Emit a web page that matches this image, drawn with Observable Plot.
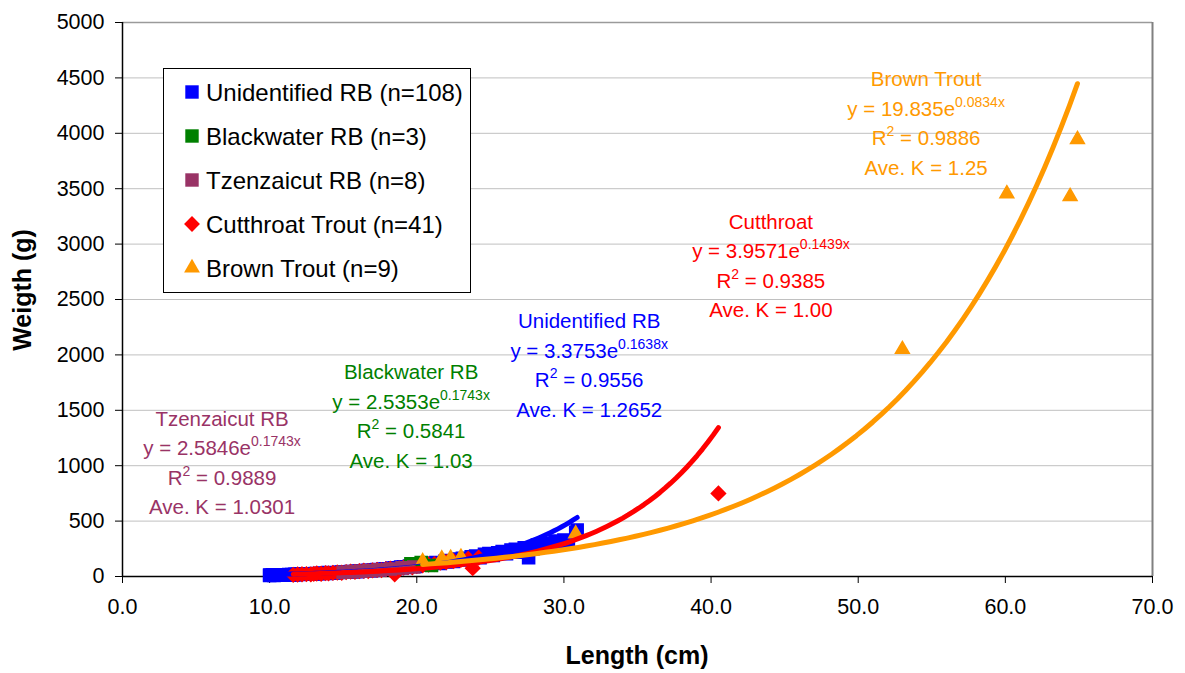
<!DOCTYPE html>
<html><head><meta charset="utf-8">
<script src="https://cdn.jsdelivr.net/npm/d3@7"></script>
<script src="https://cdn.jsdelivr.net/npm/@observablehq/plot@0.6"></script>
<style>body{margin:0;background:#fff;}</style>
</head><body><div id="chart"></div>
<script>
// ---- tick labels ----
const xTicks = [0, 10, 20, 30, 40, 50, 60, 70];
const yTicks = [0, 500, 1000, 1500, 2000, 2500, 3000, 3500, 4000, 4500, 5000];

// ---- series ----
const seriesNames = ["Unidentified RB", "Blackwater RB", "Tzenzaicut RB", "Cutthroat Trout", "Brown Trout"];
const legendLabels = ["Unidentified RB (n=108)", "Blackwater RB (n=3)", "Tzenzaicut RB (n=8)", "Cutthroat Trout (n=41)", "Brown Trout (n=9)"];
const seriesColors = ["#0000FF", "#008000", "#993366", "#FF0000", "#FF9900"];
const seriesSymbols = ["square", "square", "square", "diamond2", "triangle2"];
const drawOrder = [0, 3, 1, 2, 4];

const unidLen = [10.0,10.0,10.1,10.2,10.3,10.4,10.5,10.5,10.6,10.7,10.8,10.9,11.0,11.0,11.1,11.2,11.3,11.4,11.5,11.6,11.7,11.8,11.9,12.0,12.1,12.3,12.5,12.7,12.9,13.1,13.3,13.5,13.7,13.9,14.1,14.3,14.5,14.7,14.9,15.1,15.3,15.5,15.7,15.9,16.1,16.3,16.5,16.7,16.9,17.1,17.3,17.5,17.7,17.9,18.1,18.3,18.5,18.7,18.9,19.1,19.3,19.5,19.7,19.9,20.1,20.4,20.7,21.0,21.3,21.6,21.9,22.2,22.5,22.8,23.1,23.4,23.7,24.0,24.3,24.6,24.9,25.2,25.5,25.8,26.1,26.4,26.7,27.0,27.3,27.6,27.9,28.2,28.5,28.8,29.1,29.4,29.7,30.0,30.3,30.8,30.9,12.2,13.0,14.0,16.0,17.0,19.0,22.0];
const unidWt = [9,13,11,15,10,12,14,11,16,12,14,13,15,12,16,14,17,15,18,16,19,17,20,18,21,20,23,22,25,26,24,29,30,28,33,34,32,37,40,38,43,45,42,48,50,47,54,56,52,60,63,58,68,70,66,76,78,72,85,88,82,95,98,90,105,110,102,120,126,118,138,145,136,158,165,150,178,185,170,200,208,190,215,225,205,240,245,220,260,170,250,285,265,300,280,320,300,330,310,400,420,24,22,36,44,55,80,130];

const blackLen = [19.6, 20.3, 21.0];
const blackWt = [115, 125, 100];

const tzenLen = [15.0, 15.6, 16.2, 16.8, 17.5, 18.2, 19.0, 19.8];
const tzenWt = [38, 44, 48, 55, 60, 68, 78, 86];

const cutLen = [11.6,11.9,12.2,12.5,12.8,13.0,13.2,13.5,13.8,14.0,14.3,14.6,14.9,15.2,15.5,15.8,16.1,16.4,16.7,17.0,17.3,17.6,17.9,18.2,18.5,18.8,19.1,19.4,19.7,20.0,20.4,20.8,21.2,21.6,22.0,22.5,23.0,23.5,23.8,24.2,40.5];
const cutWt = [15,18,20,22,19,24,27,25,30,28,33,36,34,40,44,41,48,52,49,56,60,58,66,70,20,74,80,85,82,95,100,108,112,125,130,140,150,160,75,170,750];

const brownLen = [20.4, 21.7, 22.3, 23.0, 30.8, 53.0, 60.1, 64.4, 64.9];
const brownWt = [135, 160, 165, 175, 385, 2050, 3455, 3430, 3945];

// ---- exponential fits shown on the chart: y = a e^(b x) ----
const fitAText = ["3.3753", "2.5353", "2.5846", "3.9571", "19.835"];
const fitBText = ["0.1638", "0.1743", "0.1743", "0.1439", "0.0834"];
const fitR2 = ["0.9556", "0.5841", "0.9889", "0.9385", "0.9886"];
const aveK = ["1.2652", "1.03", "1.0301", "1.00", "1.25"];
const annoTitle = ["Unidentified RB", "Blackwater RB", "Tzenzaicut RB", "Cutthroat", "Brown Trout"];
const annoX = [31.75, 19.65, 6.8, 44.1, 54.65];
const annoY = [2301, 1841, 1417, 3195, 4485];

const lens = [unidLen, blackLen, tzenLen, cutLen, brownLen];
const wts = [unidWt, blackWt, tzenWt, cutWt, brownWt];
const dotR = [6.8, 6.8, 6.8, 6.4, 6.6];
const symMap = {square: d3.symbolSquare, diamond2: d3.symbolDiamond2, triangle2: d3.symbolTriangle2};

const points = seriesNames.map((s, i) => lens[i].map((L, j) => ({series: s, L, W: wts[i][j]})));
const fits = seriesNames.map((s, i) => {
  const a = +fitAText[i], b = +fitBText[i];
  const [lo, hi] = d3.extent(lens[i]);
  const n = 80;
  return d3.range(n + 1).map(k => {
    const x = lo + (hi - lo) * k / n;
    return {series: s, L: x, W: a * Math.exp(b * x)};
  });
});

const font = "'Liberation Sans', Arial, Helvetica, sans-serif";

const chart = Plot.plot({
  width: 1185, height: 673,
  marginLeft: 122, marginRight: 33, marginTop: 22, marginBottom: 97,
  style: {fontFamily: font, fontSize: "21px", color: "#000", background: "#fff", overflow: "visible"},
  x: {domain: [0, 70], label: null},
  y: {domain: [0, 5000], label: null},
  marks: [
    Plot.gridY(yTicks, {stroke: "#c0c0c0", strokeOpacity: 1, strokeWidth: 1}),
    Plot.ruleY([5000], {stroke: "#9a9a9a", strokeWidth: 1.5}),
    Plot.ruleX([70], {stroke: "#808080", strokeWidth: 2}),
    Plot.axisY(yTicks, {tickSize: 7, tickPadding: 11, tickFormat: d => String(d), fontSize: 21.5, label: null, stroke: "#000"}),
    Plot.axisX(xTicks, {tickSize: 7, tickPadding: 15, tickFormat: d3.format(".1f"), fontSize: 21.5, label: null, stroke: "#000"}),
    Plot.ruleX([0], {stroke: "#000", strokeWidth: 1.5}),
    Plot.ruleY([0], {stroke: "#000", strokeWidth: 1.5}),
    ...drawOrder.map(i => Plot.dot(points[i], {x: "L", y: "W", symbol: seriesSymbols[i], r: dotR[i], fill: seriesColors[i], stroke: seriesColors[i], strokeWidth: 1.5, strokeLinejoin: "miter"})),
    ...fits.map((f, i) => Plot.line(f, {x: "L", y: "W", stroke: seriesColors[i], strokeWidth: 5, curve: "linear", strokeLinecap: "round"}))
  ]
});

document.getElementById("chart").appendChild(chart);

const svg = d3.select(chart);
const sx = chart.scale("x"), sy = chart.scale("y");

// annotations
const gap = 29.5;
seriesNames.forEach((s, i) => {
  const cx = sx.apply(annoX[i]), cy = sy.apply(annoY[i]);
  const g = svg.append("g").attr("fill", seriesColors[i]).attr("font-size", 20.5)
    .attr("font-family", font).attr("text-anchor", "middle");
  g.append("text").attr("x", cx).attr("y", cy + 7).text(annoTitle[i]);
  const t = g.append("text").attr("x", cx).attr("y", cy + gap + 7);
  t.append("tspan").text(`y = ${fitAText[i]}e`);
  t.append("tspan").attr("font-size", 14).attr("dy", -9).text(`${fitBText[i]}x`);
  const r = g.append("text").attr("x", cx).attr("y", cy + 2 * gap + 7);
  r.append("tspan").text("R");
  r.append("tspan").attr("font-size", 14).attr("dy", -9).text("2");
  r.append("tspan").attr("dy", 9).text(` = ${fitR2[i]}`);
  g.append("text").attr("x", cx).attr("y", cy + 3 * gap + 7).text(`Ave. K = ${aveK[i]}`);
});

// legend
const lg = svg.append("g").attr("text-anchor", "start");
lg.append("rect").attr("x", 163.5).attr("y", 68.5).attr("width", 307).attr("height", 224)
  .attr("fill", "#fff").attr("stroke", "#000").attr("stroke-width", 1);
const legSize = [180, 180, 180, 160, 180];
legendLabels.forEach((lab, i) => {
  const y = 92 + i * 44;
  lg.append("path").attr("transform", `translate(192,${y})`)
    .attr("d", d3.symbol(symMap[seriesSymbols[i]], legSize[i])())
    .attr("fill", seriesColors[i]);
  lg.append("text").attr("x", 206).attr("y", y + 8.5).attr("font-size", 24)
    .attr("text-anchor", "start")
    .attr("font-family", font).attr("fill", "#000").text(lab);
});

// axis titles
svg.append("text").attr("x", 637).attr("y", 664).attr("text-anchor", "middle")
  .attr("font-size", 25).attr("font-weight", "bold").attr("font-family", font).attr("fill", "#000")
  .text("Length (cm)");
svg.append("text").attr("transform", "translate(31,290) rotate(-90)").attr("text-anchor", "middle")
  .attr("font-size", 25).attr("font-weight", "bold").attr("font-family", font).attr("fill", "#000")
  .text("Weigth (g)");
</script>
</body></html>
